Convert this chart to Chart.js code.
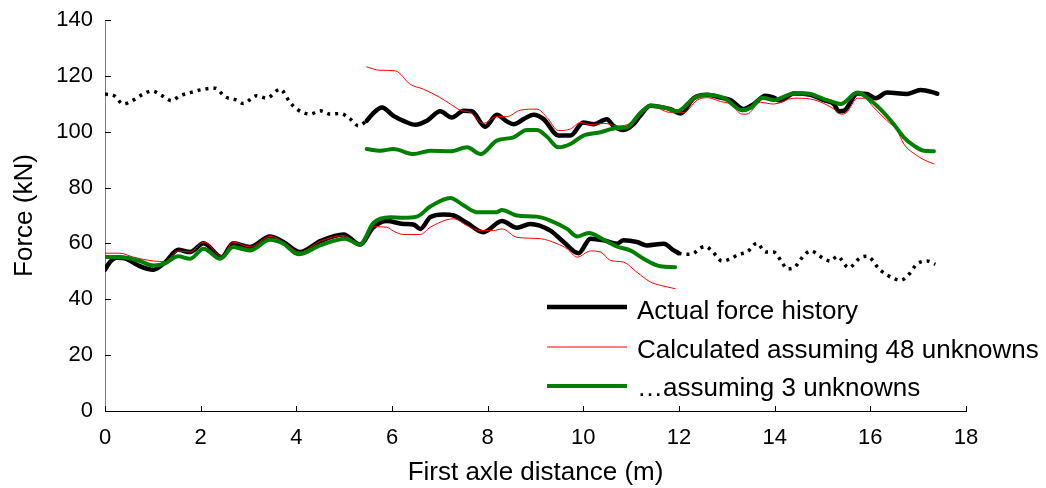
<!DOCTYPE html>
<html>
<head>
<meta charset="utf-8">
<script src="https://cdn.jsdelivr.net/npm/chart.js@4.4.1/dist/chart.umd.min.js"></script>
<style>
body{margin:0;background:#fff}
#wrap{width:1046px;height:488px}
</style>
</head>
<body>
<div id="wrap"><canvas id="c" width="1046" height="488"></canvas></div>
<script>
// actual force, front axle (dotted before the bridge, solid on it)
const actUpDotX=[0,0.2,0.38,0.59,0.8,0.98,1.19,1.39,1.57,1.78,2.06,2.3,2.51,2.76,2.89,3.17,3.38,3.66,3.87,4.01,4.29,4.5,4.71,4.92,5.13,5.3,5.47]
const actUpDotY=[113.5,112.8,109.9,111.3,113.5,114.6,112.9,111.1,112.9,114,115.2,115.6,112.5,111.3,110.1,112.9,112,115.2,110.5,108.1,106.3,107.5,106.3,106.5,104.5,102.1,103.9]

const actUpX=[5.47,5.6,5.79,6.03,6.24,6.49,6.73,7.01,7.25,7.5,7.67,7.95,8.19,8.4,8.54,8.75,8.96,9.17,9.48,9.73,10.0,10.22,10.49,10.63,10.84,11.05,11.19,11.4,11.61,11.82,12.03,12.31,12.59,12.87,13.08,13.35,13.56,13.81,13.98,14.12,14.4,14.75,15.03,15.24,15.34,15.45,15.73,15.93,16.11,16.35,16.77,17.05,17.33,17.4]
const actUpY=[103.9,106.5,108.7,105.7,103.9,102.5,103.9,107.3,105.1,107.5,107.3,101.8,106.1,103.7,102.7,104.5,106.1,104.5,98.6,98.6,103.3,102.7,104.5,102.1,100.6,102.7,105.7,109.3,108.9,108.1,106.5,112,113.2,112.2,111.3,108.1,109.9,112.9,112.2,111.1,113.7,113.2,111.3,109.9,107.3,107.5,113.7,113.5,112,114,113.5,114.9,114,113.6]

const actLowX=[0,0.1,0.24,0.45,0.7,1.01,1.26,1.53,1.78,2.06,2.44,2.68,3.03,3.45,3.73,4.08,4.5,4.99,5.33,5.61,5.89,6.24,6.45,6.59,6.8,7.08,7.29,7.57,7.91,8.3,8.61,8.89,9.31,9.59,9.9,10.15,10.43,10.7,10.84,11.12,11.33,11.68,11.89,11.99]
const actLowY=[50.6,53.3,54.9,54.5,52.1,50.6,53.3,57.7,56.9,60.1,55.1,60.1,58.7,62.5,60.5,56.9,60.8,63.2,59.6,65.8,68,67,66.8,65.2,69.4,70.4,70,67.3,64,68,65.6,67,64.6,60.5,56.5,61.7,61.1,59.9,61.1,60.5,59.3,59.9,57.5,56.5]

const actLowDotX=[11.99,12.17,12.31,12.45,12.55,12.69,12.9,13.08,13.25,13.42,13.63,13.81,13.98,14.16,14.26,14.4,14.61,14.75,15.03,15.17,15.31,15.55,15.79,15.93,16.21,16.49,16.63,16.77,16.98,17.19,17.36]
const actLowDotY=[56.5,56.1,56.5,58.4,58.9,57.3,53.7,54.5,56.1,56.9,60.1,56.9,56.9,53,50.9,51.3,55.7,57.3,54.5,53.7,55.4,51.3,54.9,55.4,50.4,47.4,46.8,48.2,52.7,53.7,52.5]

// calculated, 48 unknowns
const c48UpX=[5.47,5.75,6.07,6.38,6.66,7.01,7.22,7.43,7.64,7.91,8.19,8.4,8.68,9.03,9.24,9.48,9.73,9.94,10.15,10.43,10.7,10.91,11.19,11.4,11.82,12.1,12.38,12.59,12.87,13.08,13.32,13.42,13.7,13.98,14.4,14.75,15.03,15.24,15.38,15.5,15.73,15.87,16.07,16.35,16.56,16.7,16.98,17.19,17.33]
const c48UpY=[123.2,122,121.8,117,115.2,112.2,109.9,107.7,106.9,103,105.4,105.4,107.7,108.1,105.1,100.4,101,103.3,102.5,103,102.1,102.5,106.3,109.3,106.9,106.9,111.3,112.2,110.8,109.9,106.3,106.3,110.5,109.9,112,111.7,110.1,108.1,106.3,106.8,112,112,108.7,103.9,100.4,95.6,91.4,89.4,88.5]
const c48LowX=[0,0.31,0.59,1.01,1.26,1.53,1.78,2.06,2.44,2.68,3.03,3.45,3.73,4.08,4.5,4.99,5.33,5.61,5.89,6.03,6.24,6.59,6.8,7.15,7.29,7.57,7.85,8.12,8.3,8.61,9.1,9.45,9.66,9.87,10.15,10.36,10.57,10.84,11.12,11.4,11.61,11.92]
const c48LowY=[56.5,56.5,55.1,53.7,53.5,57.3,56.9,60.5,55.5,60.5,58.7,62.5,60.5,56.9,60.8,62.8,59.6,66,65.8,64.4,63.2,63.2,65.8,68.5,68.8,66.4,64.6,64.6,65.2,62.2,61.7,59.9,58.1,55.1,57.3,56.9,53.9,53.3,49.7,46.2,45,43.8]

// calculated, 3 unknowns
const c3UpX=[5.47,5.75,6.03,6.45,6.8,7.22,7.57,7.85,8.19,8.54,8.82,9.03,9.24,9.48,9.73,10.0,10.36,10.7,10.9,11.19,11.4,11.68,11.96,12.31,12.59,12.94,13.32,13.5,13.74,13.98,14.4,14.68,15.03,15.24,15.38,15.73,15.93,16.21,16.49,16.7,16.91,17.12,17.33]
const c3UpY=[93.8,93.2,93.8,92,93.2,93,94.4,92,96.8,98,100.6,100.6,98.2,94.4,95.6,98.6,99.8,101.3,101.5,106.7,109.3,108.7,107.3,112,113.2,112,107.7,108.6,112.2,111.3,113.7,113.7,111.7,110.5,109.9,114,112.2,108.1,102.7,98,95,93.2,93]
const c3LowX=[0,0.31,0.73,1.01,1.26,1.53,1.78,2.06,2.41,2.68,3.03,3.45,3.73,4.04,4.5,5.02,5.33,5.61,5.96,6.24,6.52,6.8,7.22,7.5,7.78,8.19,8.3,8.61,9.03,9.31,9.66,9.87,10.11,10.43,10.7,10.98,11.26,11.61,11.92]
const c3LowY=[55.1,55.1,53.7,52.1,52.9,55.4,54.5,58.1,54.5,58.7,57.5,61.3,59.9,56.1,59.3,61.7,59.6,67.3,69.4,69.2,69.6,73.2,76.3,73.6,71.2,71.2,72,70,69.6,68.2,65.2,62.5,63.7,61.3,58.9,57.5,54.5,51.8,51.5]

const legendLabels=['Actual force history','Calculated assuming 48 unknowns','\u2026assuming 3 unknowns']

function pts(xs,ys){
return xs.map((x,i)=>({x:x,y:ys[i]}))
}

const FONT='"Liberation Sans", Arial, sans-serif'

function ds(xs,ys,color,w,order,dash){
return {
data:pts(xs,ys),
borderColor:color,
borderWidth:w,
borderDash:dash||[],
borderCapStyle:dash?'butt':'round',
borderJoinStyle:'round',
pointRadius:0,
fill:false,
cubicInterpolationMode:'monotone',
order:order
}
}

// small inward tick marks like the original plot
const inTicks={
id:'inTicks',
afterDraw(chart){
const ctx=chart.ctx
const xs=chart.scales.x, ys=chart.scales.y
const a=chart.chartArea
ctx.save()
ctx.strokeStyle='#000'
ctx.lineWidth=1
xs.ticks.forEach(t=>{
const px=Math.round(xs.getPixelForValue(t.value))+0.5
ctx.beginPath();ctx.moveTo(px,a.bottom);ctx.lineTo(px,a.bottom-5);ctx.stroke()
})
ys.ticks.forEach(t=>{
const py=Math.round(ys.getPixelForValue(t.value))+0.5
ctx.beginPath();ctx.moveTo(a.left,py);ctx.lineTo(a.left+6,py);ctx.stroke()
})
ctx.restore()
}
}

// legend drawn inside the plot, no frame
const inLegend={
id:'inLegend',
afterDatasetsDraw(chart){
const ctx=chart.ctx
const items=[
{c:'#000',w:4.5,y:307,ty:319},
{c:'#ff0000',w:1,y:347,ty:358},
{c:'#008000',w:4,y:386,ty:396}
]
ctx.save()
ctx.font='26px '+FONT
ctx.textBaseline='alphabetic'
items.forEach((it,i)=>{
ctx.strokeStyle=it.c
ctx.lineWidth=it.w
ctx.beginPath();ctx.moveTo(547,it.y);ctx.lineTo(627,it.y);ctx.stroke()
ctx.fillStyle='#000'
ctx.fillText(legendLabels[i],637,it.ty)
})
ctx.restore()
}
}

new Chart(document.getElementById('c'),{
type:'line',
data:{
datasets:[
ds(actUpDotX,actUpDotY,'#000',3.5,3,[3,5]),
ds(actUpX,actUpY,'#000',4.5,3),
ds(actLowX,actLowY,'#000',4.5,3),
ds(actLowDotX,actLowDotY,'#000',3.5,3,[3,5]),
ds(c48UpX,c48UpY,'#ff0000',1,2),
ds(c48LowX,c48LowY,'#ff0000',1,2),
ds(c3UpX,c3UpY,'#008000',4,1),
ds(c3LowX,c3LowY,'#008000',4,1)
]
},
options:{
responsive:false,
animation:false,
layout:{padding:{top:20,right:80,left:0,bottom:0}},
plugins:{legend:{display:false},tooltip:{enabled:false}},
scales:{
x:{
type:'linear',
min:0,max:18,
ticks:{stepSize:2,color:'#000',font:{size:22,family:FONT},padding:6,maxRotation:0},
grid:{display:false},
border:{display:true,color:'#000',width:1},
title:{display:true,text:'First axle distance (m)',color:'#000',font:{size:26,family:FONT},padding:{top:6,bottom:0}},
afterFit(s){s.height=77}
},
y:{
min:0,max:140,
ticks:{stepSize:20,color:'#000',font:{size:22,family:FONT},padding:4},
grid:{display:false},
border:{display:true,color:'#808080',width:1},
title:{display:true,text:'Force (kN)',color:'#000',font:{size:26,family:FONT},padding:{top:9,bottom:0}},
afterFit(s){s.width=105}
}
}
},
plugins:[inTicks,inLegend]
})
</script>
</body>
</html>
